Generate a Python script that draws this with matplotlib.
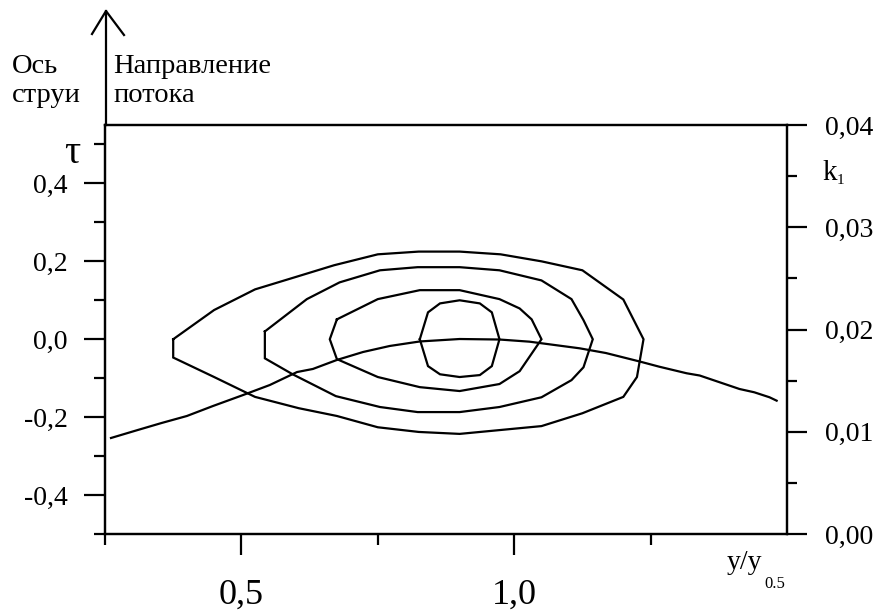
import matplotlib
matplotlib.use("Agg")
import matplotlib.pyplot as plt
from matplotlib.lines import Line2D
from matplotlib.ticker import FixedLocator, FixedFormatter

plt.rcParams["font.family"] = ["Liberation Serif", "DejaVu Serif"]

# Изолинии tau(y/y0.5)
c1_x = [0.375, 0.45, 0.525, 0.60, 0.67, 0.75, 0.825, 0.90, 0.975, 1.05, 1.125, 1.20, 1.237,
        1.225, 1.20, 1.125, 1.05, 0.975, 0.90, 0.825, 0.75, 0.675, 0.605, 0.525, 0.45, 0.375]
c1_t = [0.0, 0.075, 0.128, 0.16, 0.19, 0.218, 0.225, 0.225, 0.218, 0.20, 0.177, 0.102, 0.0,
        -0.097, -0.148, -0.19, -0.223, -0.233, -0.243, -0.238, -0.226, -0.197, -0.177, -0.148, -0.097, -0.047]

c2_x = [0.543, 0.62, 0.68, 0.754, 0.823, 0.90, 0.973, 1.05, 1.105, 1.127, 1.144,
        1.127, 1.105, 1.05, 0.973, 0.90, 0.823, 0.754, 0.673, 0.594, 0.543]
c2_t = [0.02, 0.103, 0.146, 0.177, 0.185, 0.185, 0.177, 0.151, 0.103, 0.049, 0.0,
        -0.072, -0.105, -0.149, -0.174, -0.187, -0.187, -0.174, -0.146, -0.09, -0.049]

c3_x = [0.675, 0.75, 0.827, 0.90, 0.973, 1.01, 1.032, 1.05, 1.01, 0.973, 0.90, 0.827, 0.75, 0.675, 0.662]
c3_t = [0.051, 0.103, 0.126, 0.126, 0.103, 0.079, 0.051, 0.0, -0.082, -0.115, -0.133, -0.123, -0.097, -0.051, 0.0]

c4_x = [0.827, 0.842, 0.864, 0.90, 0.937, 0.959, 0.973, 0.959, 0.937, 0.90, 0.864, 0.842]
c4_t = [0.0, 0.069, 0.092, 0.10, 0.092, 0.069, 0.0, -0.069, -0.092, -0.097, -0.09, -0.069]

contours = [(c1_x, c1_t), (c2_x, c2_t), (c3_x, c3_t), (c4_x, c4_t)]

# k1(y/y0.5)
k_x = [0.261, 0.310, 0.354, 0.400, 0.448, 0.503, 0.552, 0.602, 0.631, 0.675, 0.723, 0.772,
       0.827, 0.900, 0.973, 1.028, 1.120, 1.168, 1.230, 1.266, 1.316, 1.340, 1.382, 1.413,
       1.440, 1.468, 1.481]
k_y = [0.00939, 0.01017, 0.01086, 0.01154, 0.01252, 0.01359, 0.01457, 0.01584, 0.01614,
       0.01702, 0.0178, 0.01839, 0.01883, 0.01907, 0.01902, 0.01881, 0.01816, 0.0177,
       0.01687, 0.01636, 0.01572, 0.0155, 0.01474, 0.01418, 0.01386, 0.01337, 0.01304]

x_major = [0.5, 1.0]
x_labels = ["0,5", "1,0"]
x_minor = [0.25, 0.75, 1.25]
t_major = [-0.4, -0.2, 0.0, 0.2, 0.4]
t_labels = ["-0,4", "-0,2", "0,0", "0,2", "0,4"]
t_minor = [-0.5, -0.3, -0.1, 0.1, 0.3, 0.5]
k_major = [0.0, 0.01, 0.02, 0.03, 0.04]
k_labels = ["0,00", "0,01", "0,02", "0,03", "0,04"]
k_minor = [0.005, 0.015, 0.025, 0.035]

W, H = 879, 614


def fx(px):
    return px / W


def fy(py):
    return 1 - py / H


fig = plt.figure(figsize=(W / 100, H / 100), dpi=100)
ax = fig.add_axes([fx(105), fy(534), (787 - 105) / W, (534 - 125) / H])
ax2 = ax.twinx()

lw = 1.6
for cx, ct in contours:
    ax.plot(cx + cx[:1], ct + ct[:1], color="black", lw=lw, solid_joinstyle="miter")
ax2.plot(k_x, k_y, color="black", lw=lw)

ax.set_xlim(0.25, 1.5)
ax.set_ylim(-0.5, 0.55)
ax2.set_ylim(0.0, 0.04)

for a in (ax, ax2):
    for s in a.spines.values():
        s.set_linewidth(lw)

ax.xaxis.set_major_locator(FixedLocator(x_major))
ax.xaxis.set_major_formatter(FixedFormatter(x_labels))
ax.xaxis.set_minor_locator(FixedLocator(x_minor))
ax.yaxis.set_major_locator(FixedLocator(t_major))
ax.yaxis.set_major_formatter(FixedFormatter(t_labels))
ax.yaxis.set_minor_locator(FixedLocator(t_minor))
ax2.yaxis.set_major_locator(FixedLocator(k_major))
ax2.yaxis.set_major_formatter(FixedFormatter(k_labels))
ax2.yaxis.set_minor_locator(FixedLocator(k_minor))

ax.tick_params(axis="x", which="major", length=15, width=lw, pad=17, labelsize=26)
ax.tick_params(axis="x", which="minor", length=8, width=lw)
ax.tick_params(axis="y", which="major", length=15, width=lw, pad=12, labelsize=20)
ax.tick_params(axis="y", which="minor", length=8, width=lw)
ax2.tick_params(axis="y", which="major", length=14.5, width=lw, pad=13, labelsize=20)
ax2.tick_params(axis="y", which="minor", length=7.5, width=lw)

# стрелка направления потока
fig.add_artist(Line2D([fx(106), fx(106)], [fy(125), fy(11)], color="black", lw=lw))
fig.add_artist(Line2D([fx(92), fx(106), fx(124)], [fy(34), fy(11), fy(35)], color="black", lw=lw))

fig.text(fx(12), fy(73), "Ось", fontsize=20.5, va="baseline")
fig.text(fx(12), fy(102), "струи", fontsize=20.5, va="baseline")
fig.text(fx(113), fy(73), "Направление", fontsize=20.5, va="baseline")
fig.text(fx(113), fy(102), "потока", fontsize=20.5, va="baseline")

fig.text(fx(72), fy(163), "τ", fontsize=29, ha="center", va="baseline")
fig.text(fx(822), fy(180), "k", fontsize=21, va="baseline")
fig.text(fx(837), fy(184), "1", fontsize=11, va="baseline")
fig.text(fx(727), fy(569), "y/y", fontsize=20, va="baseline")
fig.text(fx(764), fy(588), "0.5", fontsize=12, va="baseline")

fig.savefig("out.png", dpi=100)
